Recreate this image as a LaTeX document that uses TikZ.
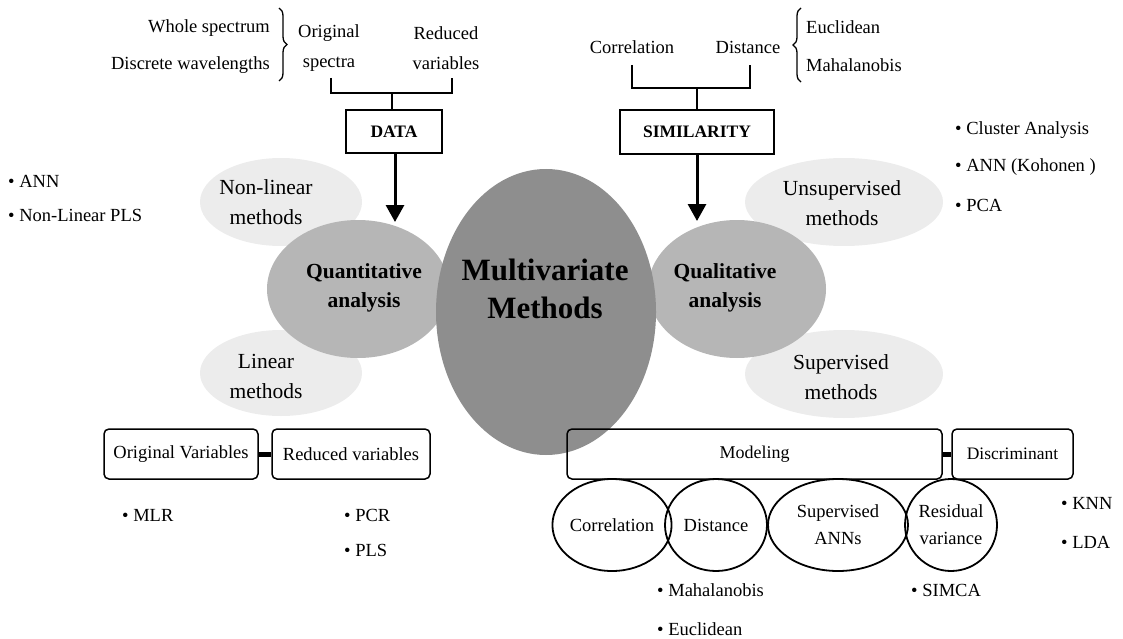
\documentclass[tikz,border=0pt]{standalone}
\usepackage{fontspec}
\setmainfont{Liberation Serif}
\usetikzlibrary{arrows.meta,decorations.pathreplacing,shapes.geometric,calc}
\definecolor{bigc}{RGB}{142,142,142}
\definecolor{medc}{RGB}{182,182,182}
\definecolor{lightc}{RGB}{236,236,236}
\begin{document}
\begin{tikzpicture}[x=1pt,y=-1pt,
  txt/.style={font=\fontsize{18.5}{30}\selectfont, inner sep=0pt, align=center},
  etxt/.style={font=\fontsize{21.5}{30}\selectfont, inner sep=0pt, align=center},
  bul/.style={font=\fontsize{18.5}{30}\selectfont, inner sep=0pt, anchor=west},
  btxt/.style={font=\fontsize{21.5}{29}\selectfont\bfseries, inner sep=0pt, align=center},
  hdr/.style={draw, line width=1.5pt, font=\fontsize{17.5}{20}\selectfont\bfseries, inner sep=0pt},
  rbox/.style={draw, line width=1.5pt, rounded corners=5pt, font=\fontsize{18.5}{20}\selectfont, inner sep=0pt, minimum height=50pt},
  blob/.style={ellipse, inner sep=0pt},
  ring/.style={ellipse, draw, line width=1.8pt, inner sep=0pt, minimum height=92pt, font=\fontsize{18.5}{27}\selectfont, align=center},
  bracket/.style={line width=2pt},
  arr/.style={line width=3pt, -{Triangle[width=18pt,length=17pt]}},
  link/.style={line width=5pt},
  brc/.style={decorate, decoration={brace, amplitude=8pt}, line width=1.3pt}
]
\useasboundingbox (0,0) rectangle (1123,639);

% ---------- top left: DATA ----------
\node[txt, anchor=east] (whole) at (270,28) {Whole spectrum};
\node[txt, anchor=east] (discr) at (270,65) {Discrete wavelengths};
\coordinate (brA1) at (279,8);
\coordinate (brA2) at (279,81);
\draw[brc] (brA1) -- (brA2);
\node[txt] (orig) at (329,48) {Original\\spectra};
\node[txt] (redv) at (446,48) {Reduced\\variables};
\node[hdr, minimum width=96pt, minimum height=43pt] (data) at (394,131.5) {DATA};
\coordinate (dL) at (331,78);
\coordinate (dR) at (452,78);
\coordinate (dM) at (392,93);
\draw[bracket] (dL) |- (dM) -| (dR);
\draw[bracket] (dM) -- (data.north -| dM);

% ---------- top right: SIMILARITY ----------
\node[txt] (corr) at (632,47) {Correlation};
\node[txt] (dist) at (748,47) {Distance};
\coordinate (brB1) at (801,82);
\coordinate (brB2) at (801,8);
\draw[brc] (brB1) -- (brB2);
\node[bul] (eucl) at (806,27) {Euclidean};
\node[bul] (maha) at (806,65) {Mahalanobis};
\node[hdr, minimum width=154pt, minimum height=44pt] (sim) at (697,132) {SIMILARITY};
\coordinate (sL) at (632,65);
\coordinate (sR) at (750,65);
\coordinate (sM) at (697,88);
\draw[bracket] (sL) |- (sM) -| (sR);
\draw[bracket] (sM) -- (sim.north);

% ---------- ellipses ----------
\node[blob, fill=lightc, minimum width=162pt, minimum height=88pt] (nlE) at (281,202) {};
\node[blob, fill=lightc, minimum width=162pt, minimum height=86pt] (linE) at (281,373) {};
\node[blob, fill=lightc, minimum width=198pt, minimum height=88pt] (unE) at (844,202) {};
\node[blob, fill=lightc, minimum width=198pt, minimum height=88pt] (supE) at (844,374) {};
\node[etxt] (nlT) at (266,202) {Non-linear\\methods};
\node[etxt] (linT) at (266,376) {Linear\\methods};
\node[etxt] (unT) at (842,203) {Unsupervised\\methods};
\node[etxt] (supT) at (841,377) {Supervised\\methods};

\node[blob, fill=medc, minimum width=182pt, minimum height=138pt] (quE) at (358,289) {};
\node[blob, fill=medc, minimum width=178pt, minimum height=138pt] (qlE) at (737,289) {};
\node[blob, fill=bigc, minimum width=220pt, minimum height=286pt] (mmE) at (546,312) {};

\node[btxt] (quT) at (364,288) {Quantitative\\analysis};
\node[btxt] (qlT) at (725,288) {Qualitative\\analysis};
\node[font=\fontsize{31}{38}\selectfont\bfseries, inner sep=0pt, align=center] (mmT) at (545,289) {Multivariate\\Methods};

\coordinate (quIn) at (395,222);
\coordinate (qlIn) at (697,221);
\draw[arr] (data.south -| quIn) -- (quIn);
\draw[arr] (sim.south) -- (qlIn);

\node[bul] (b1) at (8,181) {• ANN};
\node[bul] (b2) at (8,215) {• Non-Linear PLS};
\node[bul] (b3) at (955,130) {• Cluster Analysis};
\node[bul] (b4) at (955,167) {• ANN (Kohonen )};
\node[bul] (b5) at (955,205) {• PCA};

% ---------- bottom left ----------
\node[rbox, minimum width=154pt] (ov) at (181,454) {Original Variables};
\node[rbox, minimum width=158pt] (rv) at (351,454) {Reduced variables};
\draw[link] (ov.east) -- (rv.west);
\node[bul] (mlr) at (122,515) {• MLR};
\node[bul] (pcr) at (344,515) {• PCR};
\node[bul] (pls) at (344,550) {• PLS};

% ---------- bottom right ----------
\node[rbox, minimum width=375pt, font=\fontsize{18}{20}\selectfont] (mod) at (754.5,454) {Modeling};
\node[rbox, minimum width=121pt, font=\fontsize{17.5}{20}\selectfont] (disc) at (1012.5,454) {Discriminant};
\draw[link] (mod.east) -- (disc.west);

\node[ring, minimum width=110pt] (rc) at (612,525) {Correlation};
\node[ring, minimum width=102pt] (rd) at (716,525) {Distance};
\node[ring, minimum width=140pt] (rs) at (838,525) {Supervised\\ANNs};
\node[ring, minimum width=92pt] (rr) at (951,525) {Residual\\variance};

\node[bul] (bm) at (657,590) {• Mahalanobis};
\node[bul] (be) at (657,629) {• Euclidean};
\node[bul] (bs) at (911,590) {• SIMCA};
\node[bul] (bk) at (1061,503) {• KNN};
\node[bul] (bl) at (1061,542) {• LDA};
\end{tikzpicture}
\end{document}
